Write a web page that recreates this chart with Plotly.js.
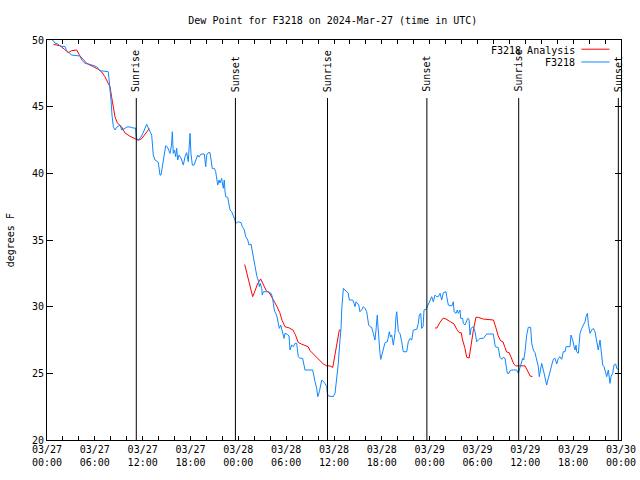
<!DOCTYPE html>
<html>
<head>
<meta charset="utf-8">
<script src="https://cdn.plot.ly/plotly-3.0.1.min.js"></script>
<style>html,body{margin:0;padding:0;background:#fff;}</style>
</head>
<body>
<div id="chart" style="width:640px;height:480px;"></div>
<script>
// Hours after 2024-03-27 00:00 UTC
const obsHours = [0.63,0.79,1.0,1.38,1.63,2.26,2.47,3.1,4.14,4.35,4.77,5.39,6.23,6.65,7.69,7.9,8.03,8.15,8.32,8.53,8.78,9.16,9.37,9.66,10.04,10.41,10.79,11.1,11.2,11.45,11.79,12.04,12.29,12.51,12.71,12.92,13.13,13.33,13.55,13.96,14.05,14.17,14.3,14.59,14.89,15.11,15.22,15.43,15.62,15.72,15.84,15.99,16.14,16.27,16.39,16.56,16.81,17.1,17.31,17.52,17.72,17.94,18.06,18.23,18.44,18.65,18.9,19.07,19.32,19.73,19.91,20.03,20.23,20.45,20.57,20.73,20.99,21.16,21.41,21.58,21.7,21.91,22.11,22.24,22.33,22.42,22.67,22.83,22.96,23.17,23.37,23.58,23.67,24.0,24.34,24.5,24.75,24.92,25.18,25.34,25.59,25.75,25.88,26.0,26.18,26.34,26.5,26.63,26.76,26.93,27.0,27.13,27.76,28.1,28.26,28.39,28.51,28.69,28.85,29.01,29.14,29.32,29.57,29.73,29.85,30.14,30.36,30.48,30.69,30.9,31.11,31.32,31.52,31.74,32.07,32.24,32.36,33.33,33.4,33.62,33.83,33.96,34.16,34.33,34.46,34.66,34.87,35.09,35.16,35.29,35.71,35.91,36.13,36.25,36.34,36.54,36.75,36.88,36.97,37.09,37.17,37.38,37.59,37.79,37.92,38.35,38.51,38.64,38.76,38.92,39.1,39.26,39.47,39.68,39.89,40.1,40.18,40.35,40.52,40.73,40.93,41.02,41.14,41.27,41.43,41.52,41.61,41.77,41.86,41.98,42.19,42.4,42.69,42.94,43.09,43.24,43.44,43.65,43.78,43.87,44.07,44.28,44.49,44.69,45.12,45.32,45.53,45.75,45.95,46.38,46.58,46.7,46.88,47.0,47.17,47.29,47.54,47.7,47.83,48.04,48.26,48.46,48.67,48.88,49.08,49.3,49.51,49.71,49.92,50.05,50.14,50.34,50.77,50.97,51.06,51.31,51.47,51.6,51.81,51.89,52.14,52.22,52.43,52.65,52.77,52.94,53.06,53.19,53.47,53.69,53.9,54.1,54.31,54.73,54.94,55.16,55.98,56.07,56.23,56.61,56.82,57.04,57.24,57.45,57.58,57.74,57.95,58.08,58.29,58.92,59.12,59.24,59.42,59.67,59.8,59.96,60.17,60.37,60.67,60.8,61.0,61.21,61.43,61.63,61.75,61.93,62.05,62.26,62.47,62.68,62.88,63.1,63.31,63.51,63.72,63.94,64.14,64.35,64.56,64.76,64.98,65.1,65.6,65.73,65.94,66.11,66.23,66.36,66.44,66.65,66.77,66.86,67.07,67.27,67.49,67.61,67.78,67.9,68.11,68.33,68.53,68.74,68.95,69.15,69.37,69.45,69.71,69.87,69.99,70.21,70.41,70.62,70.75,70.96,71.12,71.34,71.46,71.66];
const obsDewPoint = [50.0,49.95,49.77,49.7,49.55,49.5,49.2,48.87,48.8,48.5,48.25,48.17,48.0,47.7,47.62,46.5,45.5,44.37,43.5,43.25,43.48,43.62,43.25,43.33,43.48,43.48,43.4,43.4,42.65,42.5,42.72,43.02,43.4,43.68,43.4,43.1,42.87,41.37,41.0,40.83,40.25,39.87,39.87,41.13,42.07,41.97,41.75,41.5,42.12,43.12,41.5,41.75,41.25,41.88,41.0,41.37,41.15,40.62,41.25,41.55,40.87,43.0,41.5,40.62,40.62,41.0,41.37,41.22,41.45,41.45,40.5,41.37,41.55,41.55,41.0,40.37,40.37,40.12,39.12,39.5,39.27,39.62,38.88,39.5,38.62,38.25,38.2,37.75,37.25,37.12,36.87,36.5,36.25,36.37,36.3,36.0,35.75,35.25,35.0,34.62,34.7,34.12,33.5,33.25,32.75,32.25,32.0,31.5,31.75,31.37,30.87,31.12,31.12,31.0,30.75,30.25,29.75,29.5,29.25,28.75,28.37,28.62,28.12,27.62,28.0,27.93,27.8,26.75,27.12,27.0,27.25,27.25,26.25,26.13,26.13,25.7,25.25,25.25,25.0,24.37,23.88,23.25,23.62,24.0,24.5,24.37,24.25,24.0,23.5,23.3,23.3,23.25,23.5,24.12,24.75,25.75,27.5,28.37,29.75,30.87,31.37,31.25,31.12,31.0,30.5,30.5,30.25,30.0,30.37,30.27,30.12,29.62,29.75,30.0,29.87,29.62,29.37,28.62,28.5,28.45,28.0,27.62,27.5,28.25,29.37,28.5,27.5,26.5,26.05,26.37,26.75,27.3,27.37,28.12,27.72,27.87,27.12,28.0,29.25,29.62,28.12,28.0,27.37,26.62,26.62,27.37,27.62,27.5,28.25,28.3,28.75,29.37,29.5,28.37,28.5,29.75,29.8,30.0,30.25,30.5,30.75,30.37,30.87,30.75,30.75,31.0,30.5,31.05,31.12,31.12,30.75,30.12,30.05,30.37,29.62,29.5,29.75,29.5,29.75,29.12,29.12,28.75,28.62,28.87,29.12,29.05,27.87,28.37,28.5,28.12,27.37,27.5,27.62,27.62,27.75,27.95,27.95,27.5,27.0,26.92,26.2,26.05,26.2,26.13,25.5,25.0,25.0,25.2,25.25,25.25,25.0,25.25,25.75,26.13,26.0,26.62,27.87,28.45,28.45,27.25,26.75,26.55,26.0,25.5,24.75,25.37,25.75,25.25,24.75,24.12,24.62,25.25,25.62,26.05,26.13,25.7,26.13,26.25,26.05,26.62,26.62,27.0,27.0,27.87,27.5,27.0,26.75,27.12,26.62,26.5,27.5,28.0,28.37,28.62,28.87,29.25,29.5,28.75,28.0,28.25,28.37,28.12,27.5,26.75,27.5,27.0,25.62,25.5,25.25,24.75,25.25,24.25,24.75,25.0,25.62,25.7,25.37,25.3];

const anaHours = [0.8,1.63,2.2,2.67,3.1,3.72,4.14,4.55,4.98,5.8,6.44,6.86,7.27,7.69,7.9,8.1,8.32,8.53,8.82,9.37,9.78,10.4,11.04,11.45,11.88,12.3,12.83,
  18.0,
  24.8,25.05,25.26,25.5,25.8,26.1,26.4,26.8,27.1,27.5,27.85,28.1,28.4,28.85,29.2,29.5,29.85,30.4,30.85,31.15,31.5,31.9,32.46,32.75,33.0,33.6,34.03,34.66,35.1,35.5,35.84,36.0,36.25,36.54,36.67,36.85,
  42.0,
  48.67,48.9,49.3,49.7,50.05,50.35,50.77,51.06,51.4,51.7,51.95,52.1,52.4,52.65,52.95,53.2,53.5,53.8,54.1,54.73,55.35,56.0,56.3,56.6,56.9,57.2,57.45,57.65,57.98,58.25,58.55,58.8,59.3,59.67,59.96,60.17,60.4,60.6,60.9];
const anaDewPoint = [49.67,49.57,49.3,49.05,49.2,49.25,48.8,48.5,48.25,48.0,47.8,47.6,47.24,46.74,46.5,45.74,44.86,44.23,43.78,43.48,43.03,42.78,42.6,42.48,42.6,42.93,43.36,
  null,
  33.16,32.5,31.95,31.3,30.75,31.2,31.7,32.08,31.75,31.2,31.07,30.85,30.5,30.0,29.55,28.95,28.5,28.4,28.25,27.9,27.32,27.2,27.05,27.0,26.7,26.32,26.07,25.7,25.56,25.56,25.44,25.94,26.94,27.7,28.25,28.25,
  null,
  28.4,28.4,28.83,29.15,29.07,28.95,28.83,28.7,28.3,28.05,28.05,27.57,26.94,26.2,26.15,27.2,28.3,29.2,29.2,29.07,29.02,29.0,28.44,27.8,27.44,27.35,26.94,26.6,26.55,26.15,25.7,25.56,25.56,25.56,25.56,25.32,25.07,24.8,24.75];

const sunTimes = ['2024-03-27 11:12','2024-03-27 23:38','2024-03-28 11:11','2024-03-28 23:39','2024-03-29 11:10','2024-03-29 23:40'];
const sunLabels = ['Sunrise','Sunset','Sunrise','Sunset','Sunrise','Sunset'];

const seriesNames = ['F3218 Analysis','F3218'];
const seriesColors = ['#ff0000','#0f87ff'];

const BASE = Date.UTC(2024, 2, 27);
function toDate(h) {
  if (h === null) return null;
  return new Date(BASE + h * 3600000).toISOString().slice(0, 19).replace('T', ' ');
}

const traces = [
  {x: anaHours.map(toDate), y: anaDewPoint, type: 'scatter', mode: 'lines', name: seriesNames[0],
   line: {color: seriesColors[0], width: 1}, connectgaps: false},
  {x: obsHours.map(toDate), y: obsDewPoint, type: 'scatter', mode: 'lines', name: seriesNames[1],
   line: {color: seriesColors[1], width: 1, shape: 'linear'}}
];

const shapes = [];
const annotations = [];
sunTimes.forEach((t, i) => {
  shapes.push({type: 'line', xref: 'x', yref: 'paper', x0: t, x1: t, y0: 0, y1: 0.855,
    line: {color: 'black', width: 1}});
  annotations.push({xref: 'x', yref: 'paper', x: t, y: 0.868, text: sunLabels[i], textangle: -90,
    showarrow: false, xanchor: 'center', yanchor: 'bottom', font: {size: 10, color: 'black'}, borderpad: 0});
});

// legend (gnuplot style: text then sample line)
const legY = [0.975, 0.943];
seriesNames.forEach((n, i) => {
  annotations.push({xref: 'paper', yref: 'paper', x: 0.922, y: legY[i], text: n, showarrow: false,
    xanchor: 'right', yanchor: 'middle', font: {size: 10, color: 'black'}, borderpad: 0});
  shapes.push({type: 'line', xref: 'paper', yref: 'paper', x0: 0.931, x1: 0.98, y0: legY[i] + 0.002, y1: legY[i] + 0.002,
    line: {color: seriesColors[i], width: 1}});
});

annotations.push({xref: 'paper', yref: 'paper', x: -0.064, y: 0.5, text: 'degrees F', textangle: -90,
  showarrow: false, xanchor: 'center', yanchor: 'middle', font: {size: 10, color: 'black'}});

const layout = {
  width: 640, height: 480,
  margin: {l: 47, r: 19, t: 40, b: 40, pad: 0},
  paper_bgcolor: 'white', plot_bgcolor: 'white',
  font: {family: 'DejaVu Sans Mono, monospace', size: 10, color: 'black'},
  title: {text: 'Dew Point for F3218 on 2024-Mar-27 (time in UTC)', x: 0.52, xref: 'container',
    y: 0.958, yref: 'container', yanchor: 'middle', font: {size: 10, color: 'black'}},
  showlegend: false,
  xaxis: {
    type: 'date', range: ['2024-03-27 00:00', '2024-03-30 00:00'],
    tick0: '2024-03-27 00:00', dtick: 6 * 3600000, tickformat: '%m/%d<br>%H:%M',
    ticks: 'inside', ticklen: 4, tickcolor: 'black', tickwidth: 1,
    showline: true, linecolor: 'black', linewidth: 1, mirror: 'allticks',
    showgrid: false, zeroline: false,
    minor: {dtick: 2 * 3600000, tick0: '2024-03-27 00:00', ticks: 'inside', ticklen: 4, tickcolor: 'black', showgrid: false},
    tickfont: {size: 10, color: 'black'}
  },
  yaxis: {
    range: [20, 50], tick0: 20, dtick: 5,
    ticks: 'inside', ticklen: 6, tickcolor: 'black', tickwidth: 1,
    showline: true, linecolor: 'black', linewidth: 1, mirror: 'allticks',
    showgrid: false, zeroline: false, tickfont: {size: 10, color: 'black'}
  },
  shapes: shapes,
  annotations: annotations
};

Plotly.newPlot('chart', traces, layout, {staticPlot: true, displayModeBar: false});
</script>
</body>
</html>
